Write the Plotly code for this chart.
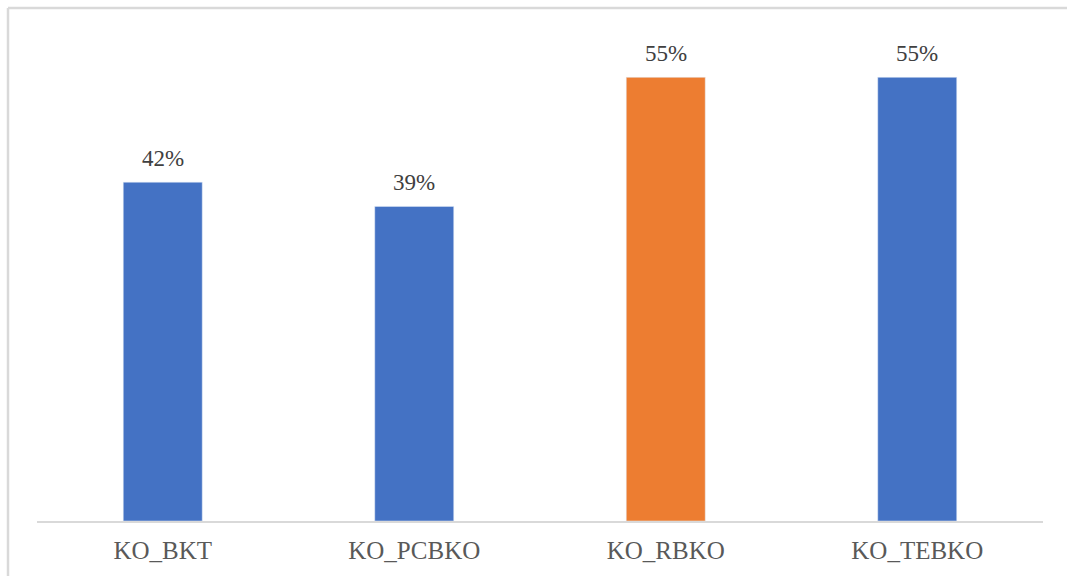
import plotly.graph_objects as go

categories = ["KO_BKT", "KO_PCBKO", "KO_RBKO", "KO_TEBKO"]
values = [0.42, 0.39, 0.55, 0.55]
labels = ["42%", "39%", "55%", "55%"]
colors = ["#4472C4", "#4472C4", "#ED7D31", "#4472C4"]

W, H = 1067, 576
ml, mr, mt, mb = 37, 24, 37, 55
pw, ph = W - ml - mr, H - mt - mb

fig = go.Figure(go.Bar(
    x=categories, y=values, marker_color=colors, width=0.314,
    hoverinfo="skip",
))

for c, v, t in zip(categories, values, labels):
    fig.add_annotation(x=c, y=v, text=t, showarrow=False, yanchor="bottom",
                       yshift=9, font=dict(family="Liberation Serif", size=23, color="#404040"))

def px_x(p):
    return (p - ml) / pw

def px_y(p):
    return (H - mb - p) / ph

line = dict(color="#D9D9D9", width=2.5)
fig.add_shape(type="line", xref="paper", yref="paper", x0=px_x(8), x1=px_x(W + 2),
              y0=px_y(8), y1=px_y(8), line=line)
fig.add_shape(type="line", xref="paper", yref="paper", x0=px_x(8), x1=px_x(8),
              y0=px_y(8), y1=px_y(H + 2), line=line)

fig.update_layout(
    width=W, height=H, margin=dict(l=ml, r=mr, t=mt, b=mb, pad=0, autoexpand=False),
    paper_bgcolor="white", plot_bgcolor="white", showlegend=False,
    xaxis=dict(showline=True, linecolor="#D9D9D9", linewidth=2, ticks="",
               ticklabelstandoff=6, automargin=False,
               tickfont=dict(family="Liberation Serif", size=25, color="#595959"),
               showgrid=False, zeroline=False, fixedrange=True),
    yaxis=dict(range=[0, 0.6], visible=False, showgrid=False, zeroline=False, fixedrange=True,
               automargin=False),
)

fig.write_html("out.html", config={"displayModeBar": False})
